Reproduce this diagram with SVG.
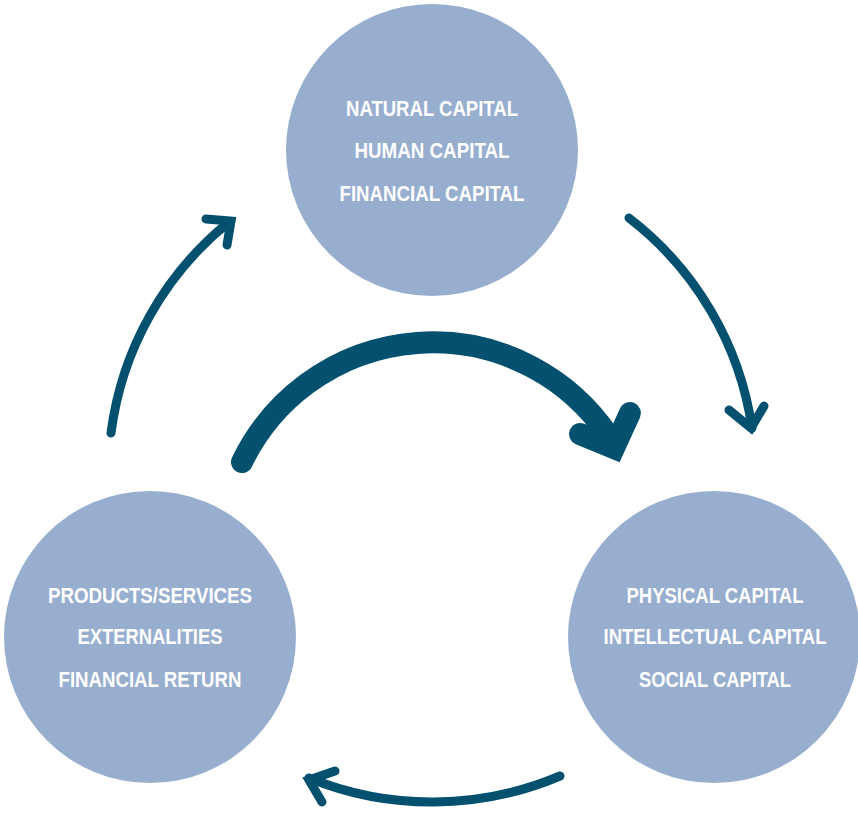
<svg xmlns="http://www.w3.org/2000/svg" width="858" height="814" viewBox="0 0 858 814">
<style>
.node{fill:#97AECF}
.lbl{font-family:"Liberation Sans",Arial,sans-serif;font-weight:bold;font-size:22.5px;fill:#ffffff;text-anchor:middle}
.thin{fill:none;stroke:#03506F;stroke-width:9;stroke-linecap:round;stroke-linejoin:miter;stroke-miterlimit:10}
.thick{fill:none;stroke:#03506F;stroke-width:22;stroke-linecap:round;stroke-linejoin:miter;stroke-miterlimit:10}
</style>
<rect width="858" height="814" fill="#ffffff"/>
<g id="inputs">
<circle class="node" cx="432" cy="150" r="146"/>
<text class="lbl" x="432" y="116" textLength="172" lengthAdjust="spacingAndGlyphs">NATURAL CAPITAL</text>
<text class="lbl" x="432" y="158" textLength="155" lengthAdjust="spacingAndGlyphs">HUMAN CAPITAL</text>
<text class="lbl" x="432" y="201" textLength="185" lengthAdjust="spacingAndGlyphs">FINANCIAL CAPITAL</text>
</g>
<g id="capitals">
<circle class="node" cx="714" cy="637" r="146"/>
<text class="lbl" x="715" y="603" textLength="177" lengthAdjust="spacingAndGlyphs">PHYSICAL CAPITAL</text>
<text class="lbl" x="715" y="644" textLength="223" lengthAdjust="spacingAndGlyphs">INTELLECTUAL CAPITAL</text>
<text class="lbl" x="715" y="687" textLength="152" lengthAdjust="spacingAndGlyphs">SOCIAL CAPITAL</text>
</g>
<g id="outputs">
<circle class="node" cx="150" cy="637" r="146"/>
<text class="lbl" x="150" y="603" textLength="204" lengthAdjust="spacingAndGlyphs">PRODUCTS/SERVICES</text>
<text class="lbl" x="150" y="644" textLength="145" lengthAdjust="spacingAndGlyphs">EXTERNALITIES</text>
<text class="lbl" x="150" y="687" textLength="183" lengthAdjust="spacingAndGlyphs">FINANCIAL RETURN</text>
</g>
<g id="connectors">
<path class="thin" d="M111,433 A324,324 0 0 1 229,222"/>
<path class="thin" d="M206,219 L231,221 L227,245"/>
<path class="thin" d="M629,218 A324,324 0 0 1 752,428"/>
<path class="thin" d="M729,410 L751,428 L764,406"/>
<path class="thin" d="M560,776 A327,327 0 0 1 309,778"/>
<path class="thin" d="M335,771 L309,780 L322,802"/>
<path class="thick" d="M242,462 A212,212 0 0 1 608,435"/>
<path class="thick" d="M580,434 L614,448 L630,413"/>
</g>
</svg>
